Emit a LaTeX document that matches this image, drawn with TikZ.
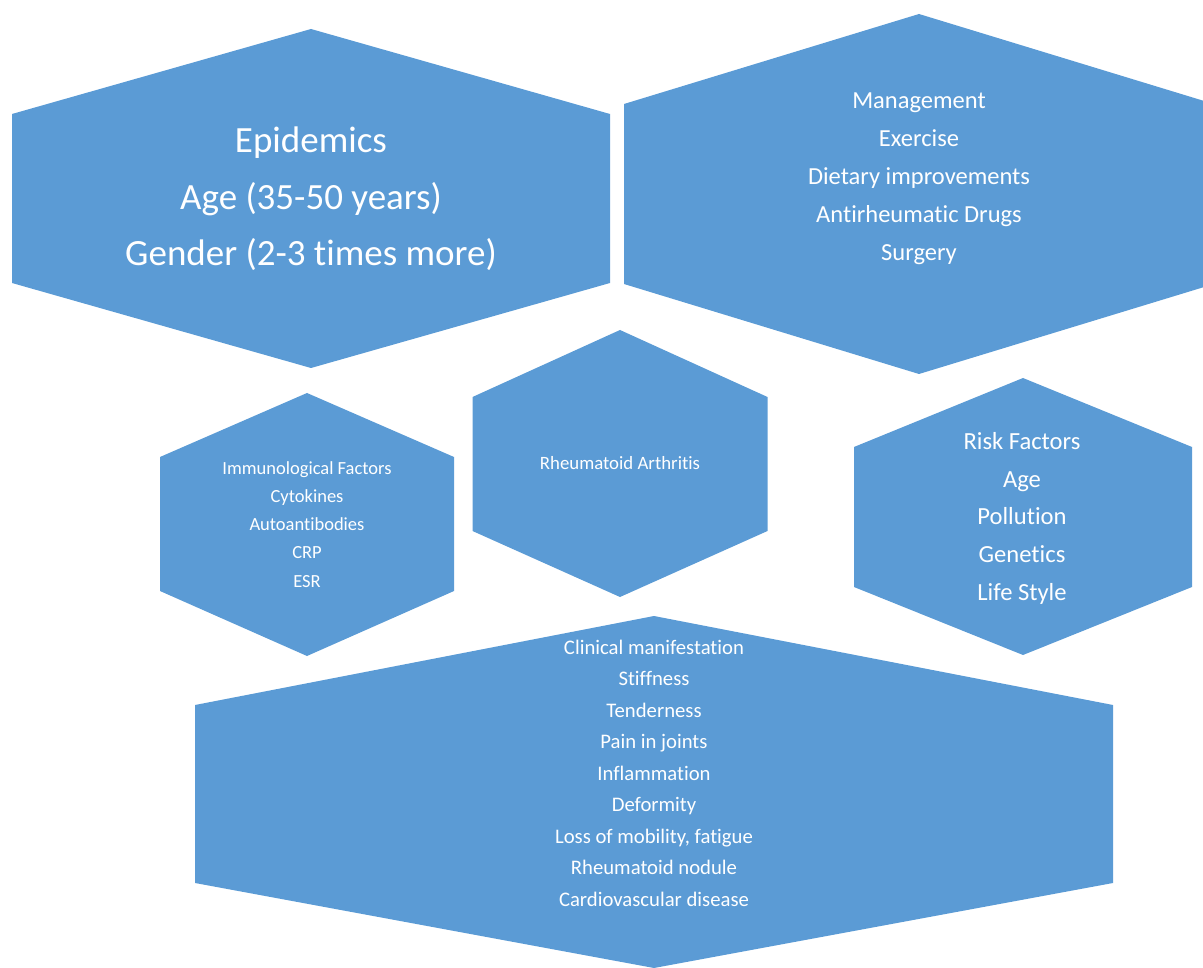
\documentclass[tikz,border=0pt]{standalone}
\usepackage{fontspec}
\setmainfont[Ligatures=NoCommon]{Carlito}
\definecolor{hexblue}{HTML}{5B9BD5}
\begin{document}
\begin{tikzpicture}[x=1pt,y=-1pt,
  hexfill/.style={fill=hexblue,draw=none},
  hextext/.style={text=white,anchor=base,inner sep=0pt}]
\useasboundingbox (0,0) rectangle (1203,968);
\clip (0,0) rectangle (1203,968);
% hexagons: (cx, top, halfwidth, upper side y, lower side y, bottom)
\newcommand{\hexa}[6]{\fill[hexfill] (#1,#2) -- (#1+#3,#4) -- (#1+#3,#5) -- (#1,#6) -- (#1-#3,#5) -- (#1-#3,#4) -- cycle;}
\hexa{311}{29}{299}{114}{283}{368}
\hexa{919}{14}{295}{104}{284}{374}
\hexa{307}{393}{147}{457}{591}{656}
\hexa{620}{330}{147.5}{397}{531}{597}
\hexa{1023}{378}{169}{447}{587}{655}
\hexa{654}{616}{459}{705}{883}{968}
% Epidemics
\foreach \t [count=\i] in {Epidemics,Age (35-50 years),Gender (2-3 times more)}
  \node[hextext,font=\fontsize{37}{42}\selectfont] (ep\i) at (311,153+56.5*\i-56.5) {\t};
% Management
\foreach \t [count=\i] in {Management,Exercise,Dietary improvements,Antirheumatic Drugs,Surgery}
  \node[hextext,font=\fontsize{24.5}{28}\selectfont] (mg\i) at (919,109+38*\i-38) {\t};
% Immunological
\foreach \t [count=\i] in {Immunological Factors,Cytokines,Autoantibodies,CRP,ESR}
  \node[hextext,font=\fontsize{18.5}{22}\selectfont] (im\i) at (307,474+28.3*\i-28.3) {\t};
% Rheumatoid
\node[hextext,font=\fontsize{18.8}{22}\selectfont] (ra) at (620,469) {Rheumatoid Arthritis};
% Risk
\foreach \t [count=\i] in {Risk Factors,Age,Pollution,Genetics,Life Style}
  \node[hextext,font=\fontsize{24.6}{28}\selectfont] (rf\i) at (1022,449.3+37.7*\i-37.7) {\t};
% Clinical
\foreach \t [count=\i] in {Clinical manifestation,Stiffness,Tenderness,Pain in joints,Inflammation,Deformity,{Loss of mobility, fatigue},Rheumatoid nodule,Cardiovascular disease}
  \node[hextext,font=\fontsize{20.7}{24}\selectfont] (cm\i) at (654,654+31.5*\i-31.5) {\t};
\end{tikzpicture}
\end{document}
